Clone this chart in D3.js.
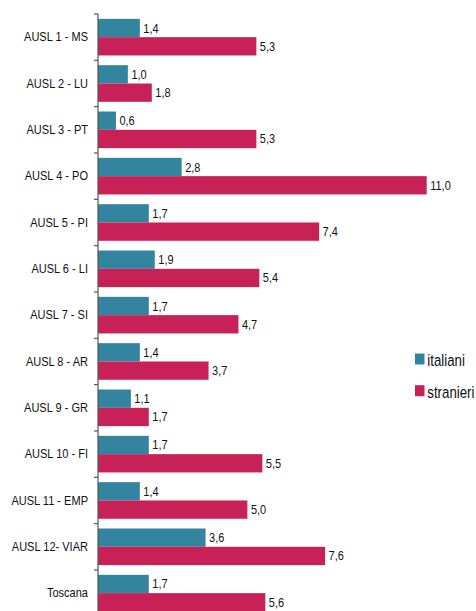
<!DOCTYPE html>
<html><head><meta charset="utf-8">
<script src="https://cdn.jsdelivr.net/npm/d3@7"></script>
<style>html,body{margin:0;padding:0;background:#fff;}svg{display:block;}</style>
</head><body>
<svg id="c" width="476" height="611"></svg>
<script>
const categories = ["AUSL 1 - MS","AUSL 2 - LU","AUSL 3 - PT","AUSL 4 - PO","AUSL 5 - PI","AUSL 6 - LI","AUSL 7 - SI","AUSL 8 - AR","AUSL 9 - GR","AUSL 10 - FI","AUSL 11 - EMP","AUSL 12- VIAR","Toscana"];
const italiani = [1.4,1.0,0.6,2.8,1.7,1.9,1.7,1.4,1.1,1.7,1.4,3.6,1.7];
const stranieri = [5.3,1.8,5.3,11.0,7.4,5.4,4.7,3.7,1.7,5.5,5.0,7.6,5.6];
const seriesNames = ["italiani","stranieri"];
const colors = ["#33849F","#C82157"];

const svg = d3.select("#c");
const font = "'Liberation Sans', Arial, sans-serif";
const x0 = 98;
const x = d3.scaleLinear().domain([0, 12]).range([x0, x0 + 12*29.88]);
const y = d3.scaleBand().domain(categories).range([14, 14 + 13*46.33]).paddingInner(0).paddingOuter(0);
const barH = 18.3;
const fmt = v => d3.format(".1f")(v).replace(".", ",");

const series = [italiani, stranieri];
series.forEach((vals, s) => {
  const g = svg.append("g");
  categories.forEach((cat, i) => {
    const yTop = y(cat) + (y.bandwidth() - 2*barH)/2 + s*barH;
    g.append("rect").attr("x", x(0)).attr("y", yTop)
      .attr("width", x(vals[i]) - x(0)).attr("height", barH)
      .attr("fill", colors[s]);
    g.append("text")
      .attr("transform", `translate(${x(vals[i]) + 3.5},${yTop + barH/2}) scale(0.88,1)`)
      .attr("dy", "0.36em").attr("font-family", font).attr("font-size", 12.5)
      .attr("fill", "#111").text(fmt(vals[i]));
  });
});

// category labels
svg.selectAll(".cl").data(categories).enter().append("text")
  .attr("transform", d => `translate(${x0 - 10},${y(d) + y.bandwidth()/2}) scale(0.92,1)`)
  .attr("text-anchor", "end").attr("dy", "0.36em")
  .attr("font-family", font).attr("font-size", 12).attr("fill", "#111").text(d => d);

// axis line and ticks
svg.append("line").attr("x1", x0).attr("x2", x0).attr("y1", y.range()[0]).attr("y2", y.range()[1])
  .attr("stroke", "#555").attr("stroke-width", 1.2);
const bounds = categories.map(c => y(c)).concat([y.range()[1]]);
svg.selectAll(".tk").data(bounds).enter().append("line")
  .attr("x1", x0 - 4).attr("x2", x0).attr("y1", d => d).attr("y2", d => d)
  .attr("stroke", "#555").attr("stroke-width", 1.2);

// legend
const leg = svg.append("g");
seriesNames.forEach((n, i) => {
  const ly = 353.5 + i*31.7;
  leg.append("rect").attr("x", 415).attr("y", ly).attr("width", 9.5).attr("height", 11).attr("fill", colors[i]);
  leg.append("text").attr("transform", `translate(427.3,${366.3 + i*32}) scale(0.78,1)`)
    .attr("font-family", font).attr("font-size", 17).attr("fill", "#111").text(n);
});
</script>
</body></html>
